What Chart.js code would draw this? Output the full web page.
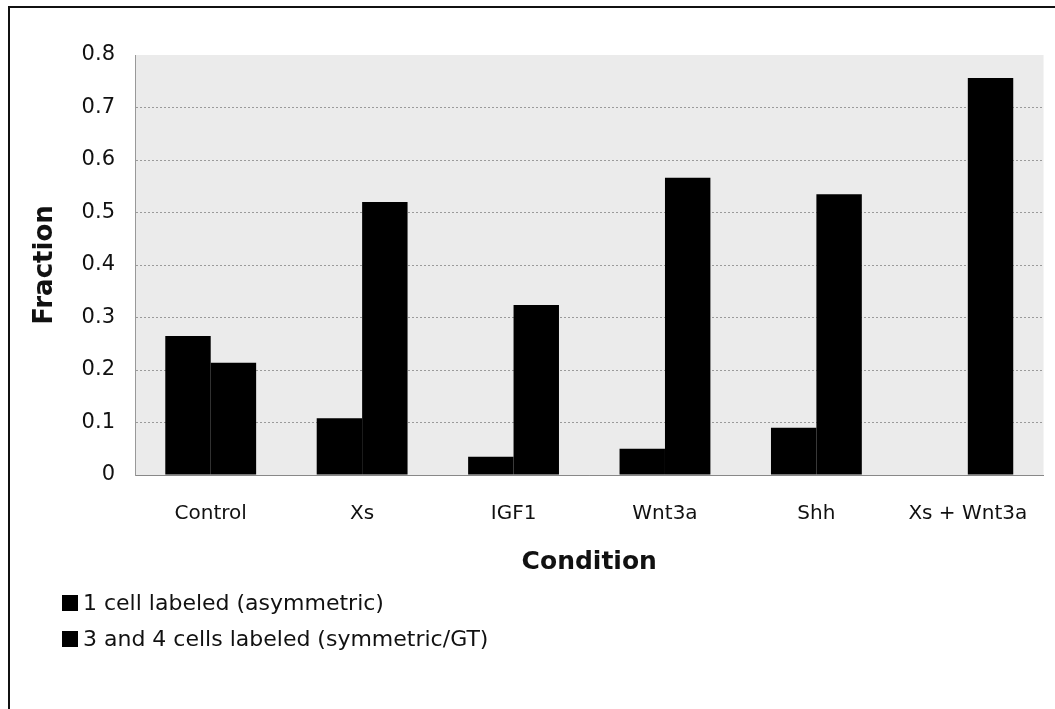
<!DOCTYPE html>
<html>
<head>
<meta charset="utf-8">
<script src="https://cdn.jsdelivr.net/npm/chart.js@4/dist/chart.umd.min.js"></script>
<style>
  html, body { margin: 0; padding: 0; background: #fff; }
  #wrap { position: relative; width: 1055px; height: 709px; overflow: hidden; }
  #frame { position: absolute; left: 8px; top: 6px; width: 1100px; height: 800px;
           border-left: 2px solid #111; border-top: 2px solid #111; }
  #legend { position: absolute; left: 62px; top: 589px; font-family: "DejaVu Sans", Verdana, sans-serif;
            font-size: 22px; color: #111; }
  #legend div { height: 36px; line-height: 28px; white-space: nowrap; }
  #legend span { display: inline-block; width: 16px; height: 16px; background: #000;
                 margin-right: 5px; vertical-align: -1px; }
</style>
</head>
<body>
<div id="wrap">
  <div id="frame"></div>
  <canvas id="chart" width="1055" height="709"></canvas>
  <div id="legend"></div>
</div>
<script>
// data
const conditions = ["Control", "Xs", "IGF1", "Wnt3a", "Shh", "Xs + Wnt3a"];
const asymmetric = [0.265, 0.108, 0.035, 0.05, 0.09, 0];
const symmetric = [0.214, 0.52, 0.324, 0.566, 0.535, 0.756];
const seriesNames = ["1 cell labeled (asymmetric)", "3 and 4 cells labeled (symmetric/GT)"];
const yTicks = [0, 0.1, 0.2, 0.3, 0.4, 0.5, 0.6, 0.7, 0.8];

const font = "'DejaVu Sans', Verdana, sans-serif";

// gray plot area like the scanned Excel chart
const plotBg = {
  id: "plotBg",
  beforeDraw(chart) {
    const { ctx, chartArea: a } = chart;
    ctx.save();
    ctx.fillStyle = "#ebebeb";
    ctx.fillRect(a.left, a.top, a.right - a.left, a.bottom - a.top);
    ctx.restore();
  }
};

const ctx = document.getElementById("chart").getContext("2d");
new Chart(ctx, {
  type: "bar",
  data: {
    labels: conditions,
    datasets: [
      { label: seriesNames[0], data: asymmetric, backgroundColor: "#000" },
      { label: seriesNames[1], data: symmetric, backgroundColor: "#000" }
    ]
  },
  options: {
    responsive: false,
    animation: false,
    layout: { padding: { top: 55, left: 12, right: 9, bottom: 132 } },
    datasets: { bar: { categoryPercentage: 0.6, barPercentage: 1.0 } },
    plugins: { legend: { display: false }, tooltip: { enabled: false } },
    scales: {
      x: {
        grid: { display: false, drawTicks: false },
        border: { color: "#888", width: 1 },
        ticks: { color: "#111", font: { family: font, size: 20 }, padding: 27, maxRotation: 0 },
        title: { display: true, text: "Condition", color: "#111",
                 font: { family: font, size: 25, weight: "bold" }, padding: { top: 0, bottom: 0 } },
        afterFit(s) { s.height = 102; }
      },
      y: {
        min: 0, max: 0.8,
        afterBuildTicks(s) { s.ticks = yTicks.map(v => ({ value: v })); },
        grid: { color: c => (c.tick && c.tick.value === 0.8 ? "rgba(0,0,0,0)" : "#9a9a9a"),
                lineWidth: 1, drawTicks: false },
        border: { color: "#999", width: 1, dash: [2, 2] },
        ticks: { color: "#111", font: { family: font, size: 21 }, padding: 20,
                 callback: v => String(v) },
        title: { display: true, text: "Fraction", color: "#111",
                 font: { family: font, size: 26, weight: "bold" }, padding: { top: 18, bottom: 0 } },
        afterFit(s) { s.width = 123; }
      }
    }
  },
  plugins: [plotBg]
});

// legend stacked below the axis title, like the original
const lg = document.getElementById("legend");
seriesNames.forEach(n => {
  const row = document.createElement("div");
  const sw = document.createElement("span");
  row.appendChild(sw);
  row.appendChild(document.createTextNode(n));
  lg.appendChild(row);
});
</script>
</body>
</html>
